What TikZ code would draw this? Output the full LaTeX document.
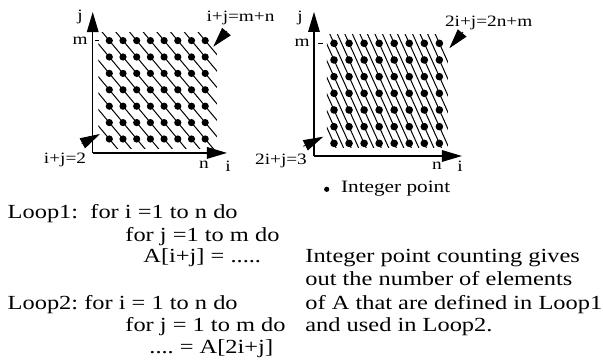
\documentclass[tikz,border=0pt]{standalone}
\usepackage{fontspec}
\setmainfont{Liberation Serif}[FakeStretch=1.22]
\usepackage{tikz}
\usetikzlibrary{arrows.meta}

\begin{document}
\frenchspacing
\begin{tikzpicture}[x=0.5pt, y=-0.5pt,
    every node/.style={inner sep=0pt},
    lbl/.style={font=\fontsize{7.9}{9}\selectfont},
    txt/.style={font=\fontsize{10}{12}\selectfont, anchor=base west},
    axis/.style={line width=0.6pt, -{Triangle[length=10pt,width=5.8pt]}},
    ptr/.style={-{Triangle[length=10pt,width=5.6pt]}},
    hatch/.style={line width=0.5pt}]

\useasboundingbox (0,0) rectangle (603,362);

% Left plot: i+j = const
\begin{scope}[shift={(95.6,155.4)}, x=6.85pt, y=8.2pt]
  \coordinate (o1) at (-0.21,0.15);
  \coordinate (jtop1) at (-0.21,8.74);
  \coordinate (iend1) at (9.59,0.15);
  \draw[axis] (o1) -- (jtop1);
  \draw[axis] (o1) -- (iend1);
  \draw[line width=0.5pt] (-0.01,7) -- (0.25,7);
  \begin{scope}
    \clip (0.2,0.45) rectangle (8.85,7.5);
    \foreach \c in {2,...,15}
      \draw[hatch] ({\c-10},10) -- ({\c+10},-10);
  \end{scope}
  \foreach \i in {1,...,8}
    \foreach \j in {1,...,7}
      \fill (\i,\j) circle (1.8pt);
\end{scope}

% Right plot: 2i+j = const
\begin{scope}[shift={(318.95,160)}, x=7.525pt, y=8.335pt]
  \coordinate (o2) at (-0.33,0.24);
  \coordinate (jtop2) at (-0.33,8.88);
  \coordinate (iend2) at (9.5,0.24);
  \draw[axis] (o2) -- (jtop2);
  \draw[axis] (o2) -- (iend2);
  \draw[line width=0.5pt] (-0.06,7) -- (0.27,7);
  \begin{scope}
    \clip (0.53,0.72) rectangle (8.57,7.5);
    \foreach \c in {3,...,23}
      \draw[hatch] ({(\c-20)/2},20) -- ({(\c+20)/2},-20);
  \end{scope}
  \foreach \i in {1,...,8}
    \foreach \j in {1,...,7}
      \fill (\i,\j) circle (1.9pt);
\end{scope}

% Axis labels
\node[lbl, anchor=base] (j1) at (80,20.7) {j};
\node[lbl, anchor=base east] (m1) at (88,44.5) {m};
\node[lbl, anchor=base] (n1) at (204,168.3) {n};
\node[lbl, anchor=base] (i1) at (228,171.7) {i};
\node[lbl, anchor=base] (j2) at (300,21.7) {j};
\node[lbl, anchor=base east] (m2) at (310,46.5) {m};
\node[lbl, anchor=base] (n2) at (437,170) {n};
\node[lbl, anchor=base] (i2) at (460,171.7) {i};

% Boundary lines
\node[lbl, anchor=base] (top1) at (240.5,21.7) {i+j=m+n};
\node[lbl, anchor=base] (bot1) at (65,163.3) {i+j=2};
\node[lbl, anchor=base] (top2) at (488.7,26.7) {2i+j=2n+m};
\node[lbl, anchor=base] (bot2) at (281,164.3) {2i+j=3};

\coordinate (p1tail) at (227,31);    \coordinate (p1tip) at (213.3,46.7);
\coordinate (p2tail) at (81.7,143.7); \coordinate (p2tip) at (100,134);
\coordinate (p3tail) at (303.3,146.3); \coordinate (p3tip) at (323.3,136.7);
\coordinate (p4tail) at (463,32);    \coordinate (p4tip) at (449.3,48.3);
\draw[ptr] (p1tail) -- (p1tip);
\draw[ptr] (p2tail) -- (p2tip);
\draw[ptr] (p3tail) -- (p3tip);
\draw[ptr] (p4tail) -- (p4tip);

% Legend
\fill (326.7,189.3) circle (1.3pt);
\node[anchor=base west, font=\fontsize{8.7}{10}\selectfont] (legend) at (340.7,192.5) {Integer point};

% Loops
\node[txt] (l1a) at (7.3,218.3) {Loop1:\ \ for i =1 to n do};
\node[txt] (l1b) at (125,241.5) {for j =1 to m do};
\node[txt] (l1c) at (143,263) {A[i+j] = .....};
\node[txt] (l2a) at (7.3,309) {Loop2: for i = 1 to n do};
\node[txt] (l2b) at (125,331.5) {for j = 1 to m do};
\node[txt] (l2c) at (149,353) {.... = A[2i+j]};

% Note
\node[txt] (r1) at (305,263) {Integer point counting gives};
\node[txt] (r2) at (305,286) {out the number of elements};
\node[txt] (r3) at (305,309) {of A that are defined in Loop1};
\node[txt] (r4) at (305,331.5) {and used in Loop2.};

\end{tikzpicture}
\end{document}
